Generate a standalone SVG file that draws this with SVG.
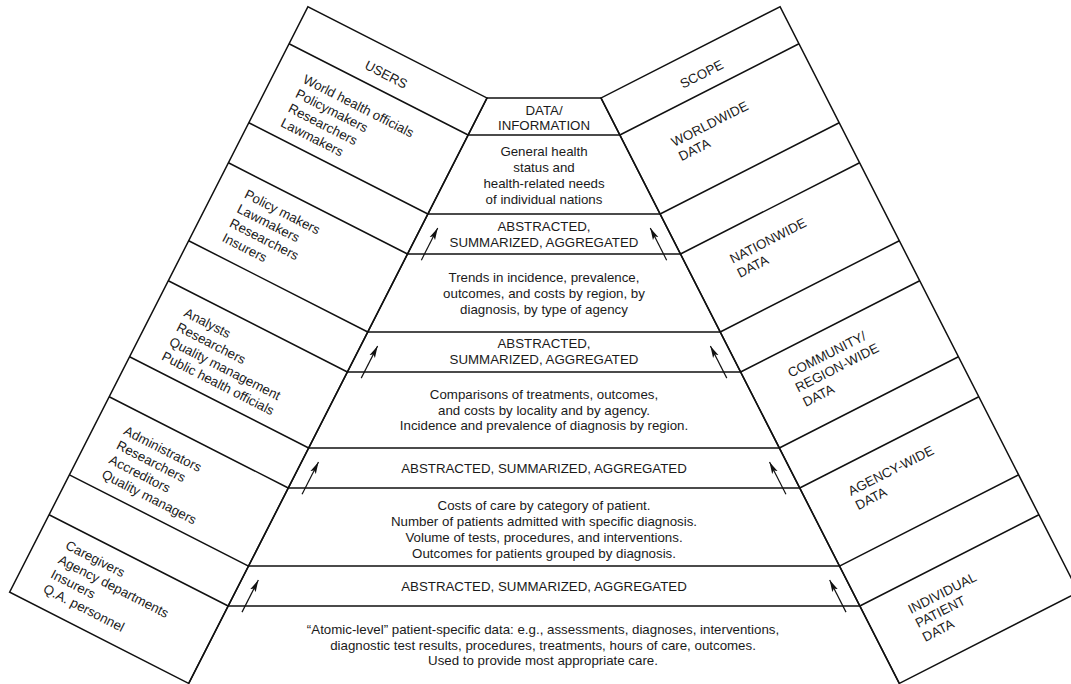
<svg xmlns="http://www.w3.org/2000/svg" width="1071" height="684" viewBox="0 0 1071 684">
<style>
.ln{stroke:#111;stroke-width:1.5;fill:none}
.ar{stroke:#111;stroke-width:1.2;fill:none;marker-end:url(#ah)}
text{font-family:"Liberation Sans",Arial,sans-serif;font-size:13.3px;fill:#1a1a1a}
.c{text-anchor:middle}
</style>
<defs>
<marker id="ah" viewBox="0 0 12 8" refX="12" refY="4" markerWidth="12" markerHeight="8" markerUnits="userSpaceOnUse" orient="auto">
<path d="M0,0.9 L12,4 L0,7.1 L2.6,4 Z" fill="#111"/>
</marker>
</defs>
<rect width="1071" height="684" fill="#fff"/>

<g id="pyramid">
<path class="ln" d="M487,98 H601 M487,98 L188.7,683.4 M601,98 L899.3,683.4"/>
<path class="ln" d="M468.15,135 H619.85 M427.9,214 H660.1 M407.52,254 H680.48 M367.78,332 H720.22 M347.4,372 H740.6 M308.67,448 H779.33 M288.29,488 H799.71 M248.55,566 H839.45 M228.17,606 H859.83"/>
</g>

<g id="band-data-information">
<text class="c" x="544" y="114.5">DATA/</text>
<text class="c" x="544" y="129.5">INFORMATION</text>
</g>
<g id="band-general-health">
<text class="c" x="544" y="156.4">General health</text>
<text class="c" x="544" y="172.2">status and</text>
<text class="c" x="544" y="188">health-related needs</text>
<text class="c" x="544" y="203.8">of individual nations</text>
</g>
<g id="band-agg-1">
<text class="c" x="544" y="230.7">ABSTRACTED,</text>
<text class="c" x="544" y="247">SUMMARIZED, AGGREGATED</text>
</g>
<g id="band-trends">
<text class="c" x="544" y="282">Trends in incidence, prevalence,</text>
<text class="c" x="544" y="298">outcomes, and costs by region, by</text>
<text class="c" x="544" y="314">diagnosis, by type of agency</text>
</g>
<g id="band-agg-2">
<text class="c" x="544" y="348">ABSTRACTED,</text>
<text class="c" x="544" y="363.7">SUMMARIZED, AGGREGATED</text>
</g>
<g id="band-comparisons">
<text class="c" x="544" y="398.7">Comparisons of treatments, outcomes,</text>
<text class="c" x="544" y="414.5">and costs by locality and by agency.</text>
<text class="c" x="544" y="430">Incidence and prevalence of diagnosis by region.</text>
</g>
<g id="band-agg-3">
<text class="c" x="544" y="473">ABSTRACTED, SUMMARIZED, AGGREGATED</text>
</g>
<g id="band-costs">
<text class="c" x="544" y="509.5">Costs of care by category of patient.</text>
<text class="c" x="544" y="525.5">Number of patients admitted with specific diagnosis.</text>
<text class="c" x="544" y="541.5">Volume of tests, procedures, and interventions.</text>
<text class="c" x="544" y="557.5">Outcomes for patients grouped by diagnosis.</text>
</g>
<g id="band-agg-4">
<text class="c" x="544" y="590.8">ABSTRACTED, SUMMARIZED, AGGREGATED</text>
</g>
<g id="band-atomic">
<text class="c" x="543" y="634.3">“Atomic-level” patient-specific data: e.g., assessments, diagnoses, interventions,</text>
<text class="c" x="543" y="649.9">diagnostic test results, procedures, treatments, hours of care, outcomes.</text>
<text class="c" x="543" y="665.4">Used to provide most appropriate care.</text>
</g>

<g id="users" transform="translate(487,98) rotate(27)">
<rect class="ln" x="-201" y="0" width="201" height="657"/>
<path class="ln" d="M-201,41.53 H0 M-201,130.2 H0 M-201,175.1 H0 M-201,262.6 H0 M-201,307.5 H0 M-201,392.8 H0 M-201,437.7 H0 M-201,525.3 H0 M-201,570.1 H0"/>
<text class="c" x="-100.5" y="29.5">USERS</text>
<text x="-172" y="70">World health officials</text>
<text x="-172" y="86.3">Policymakers</text>
<text x="-172" y="102.6">Researchers</text>
<text x="-172" y="118.9">Lawmakers</text>
<text x="-172" y="199">Policy makers</text>
<text x="-172" y="215.3">Lawmakers</text>
<text x="-172" y="231.6">Researchers</text>
<text x="-172" y="247.9">Insurers</text>
<text x="-172" y="332">Analysts</text>
<text x="-172" y="348.3">Researchers</text>
<text x="-172" y="364.6">Quality management</text>
<text x="-172" y="380.9">Public health officials</text>
<text x="-172" y="464.5">Administrators</text>
<text x="-172" y="480.8">Researchers</text>
<text x="-172" y="497.1">Accreditors</text>
<text x="-172" y="513.4">Quality managers</text>
<text x="-172" y="593">Caregivers</text>
<text x="-172" y="609.3">Agency departments</text>
<text x="-172" y="625.6">Insurers</text>
<text x="-172" y="641.9">Q.A. personnel</text>
</g>

<g id="scope" transform="translate(601,98) rotate(-27)">
<rect class="ln" x="0" y="0" width="201" height="657"/>
<path class="ln" d="M0,41.53 H201 M0,130.2 H201 M0,175.1 H201 M0,262.6 H201 M0,307.5 H201 M0,392.8 H201 M0,437.7 H201 M0,525.3 H201 M0,570.1 H201"/>
<text class="c" x="100.5" y="29">SCOPE</text>
<text x="43" y="77">WORLDWIDE</text>
<text x="43" y="93">DATA</text>
<text x="42" y="207.5">NATIONWIDE</text>
<text x="42" y="223.5">DATA</text>
<text x="42" y="335.5">COMMUNITY/</text>
<text x="42" y="351.9">REGION-WIDE</text>
<text x="42" y="368.3">DATA</text>
<text x="42" y="468.2">AGENCY-WIDE</text>
<text x="42" y="484">DATA</text>
<text x="42" y="600.5">INDIVIDUAL</text>
<text x="42" y="616.3">PATIENT</text>
<text x="42" y="632">DATA</text>
</g>

<g id="connectors">
<g transform="translate(487,98) rotate(27)">
<path class="ar" d="M15.1,174.3 V138.2"/>
<path class="ar" d="M15.1,306.7 V270.6"/>
<path class="ar" d="M15.1,437 V400.8"/>
<path class="ar" d="M15.1,569.3 V533.3"/>
</g>
<g transform="translate(601,98) rotate(-27)">
<path class="ar" d="M-15.1,174.3 V138.2"/>
<path class="ar" d="M-15.1,306.7 V270.6"/>
<path class="ar" d="M-15.1,437 V400.8"/>
<path class="ar" d="M-15.1,569.3 V533.3"/>
</g>
</g>
</svg>
